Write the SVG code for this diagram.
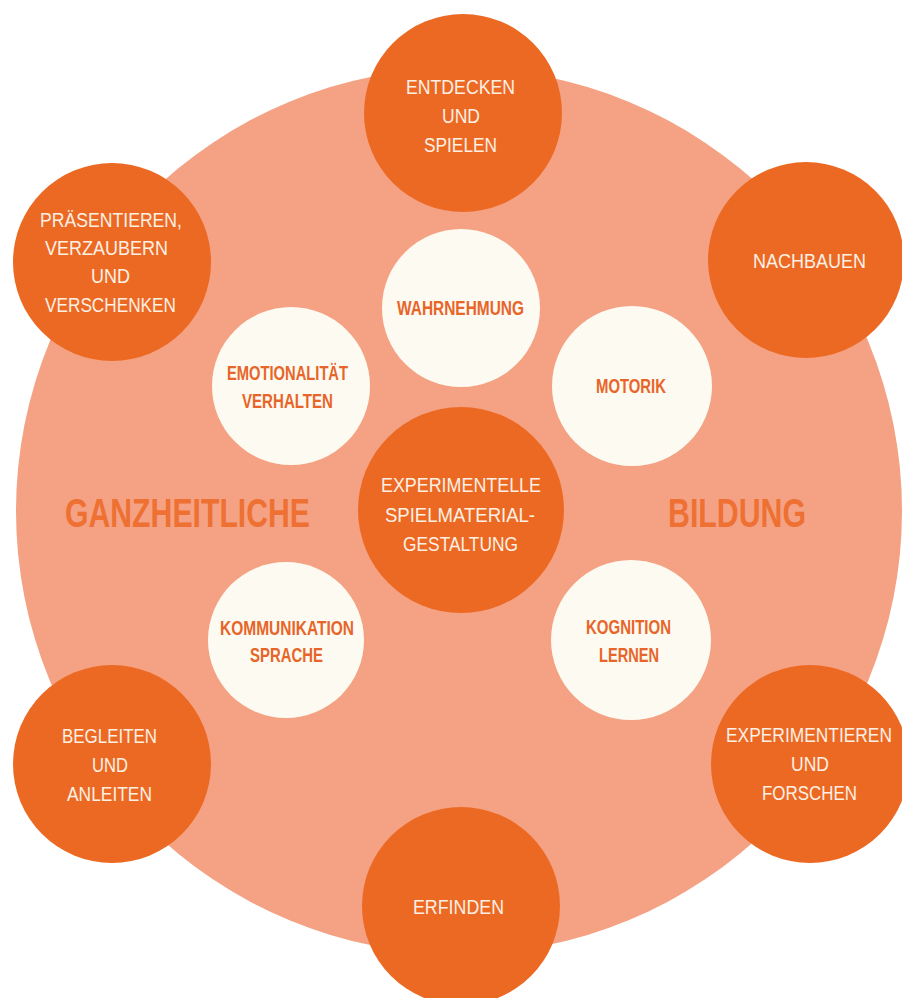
<svg xmlns="http://www.w3.org/2000/svg" width="902" height="998" viewBox="0 0 902 998">
<style>
.bg{fill:#f4a283}
.outer{fill:#ec6923}
.inner{fill:#fdfaf1}
.lo{font-family:"Liberation Sans Narrow","Liberation Sans",Arial,sans-serif;font-size:21px;fill:#fcf0e4}
.li{font-family:"Liberation Sans Narrow","Liberation Sans",Arial,sans-serif;font-size:21px;font-weight:bold;fill:#e8652a}
.big{font-family:"Liberation Sans Narrow","Liberation Sans",Arial,sans-serif;font-size:40px;font-weight:bold;fill:#ee7133}
</style>
<rect width="902" height="998" fill="#ffffff"/>
<g id="background">
<circle class="bg" cx="459" cy="511" r="443"/>
<text class="big" x="65" y="527" textLength="245" lengthAdjust="spacingAndGlyphs">GANZHEITLICHE</text>
<text class="big" x="668" y="527" textLength="138" lengthAdjust="spacingAndGlyphs">BILDUNG</text>
</g>
<g id="connectors"/>
<g id="entdecken">
<circle class="outer" cx="463" cy="113" r="99"/>
<text class="lo" x="406" y="94" textLength="109" lengthAdjust="spacingAndGlyphs">ENTDECKEN</text>
<text class="lo" x="442" y="123" textLength="38" lengthAdjust="spacingAndGlyphs">UND</text>
<text class="lo" x="424" y="152" textLength="73" lengthAdjust="spacingAndGlyphs">SPIELEN</text>
</g>
<g id="praesentieren">
<circle class="outer" cx="112" cy="262" r="99"/>
<text class="lo" x="40" y="227" textLength="142" lengthAdjust="spacingAndGlyphs">PRÄSENTIEREN,</text>
<text class="lo" x="45" y="255" textLength="123" lengthAdjust="spacingAndGlyphs">VERZAUBERN</text>
<text class="lo" x="91" y="283" textLength="39" lengthAdjust="spacingAndGlyphs">UND</text>
<text class="lo" x="45" y="312" textLength="131" lengthAdjust="spacingAndGlyphs">VERSCHENKEN</text>
</g>
<g id="nachbauen">
<circle class="outer" cx="806" cy="260" r="98"/>
<text class="lo" x="753" y="268" textLength="113" lengthAdjust="spacingAndGlyphs">NACHBAUEN</text>
</g>
<g id="begleiten">
<circle class="outer" cx="112" cy="764" r="99"/>
<text class="lo" x="62" y="743" textLength="95" lengthAdjust="spacingAndGlyphs">BEGLEITEN</text>
<text class="lo" x="92" y="772" textLength="36" lengthAdjust="spacingAndGlyphs">UND</text>
<text class="lo" x="67" y="801" textLength="85" lengthAdjust="spacingAndGlyphs">ANLEITEN</text>
</g>
<g id="experimentieren">
<circle class="outer" cx="810" cy="764" r="99"/>
<text class="lo" x="726" y="742" textLength="166" lengthAdjust="spacingAndGlyphs">EXPERIMENTIEREN</text>
<text class="lo" x="791" y="771" textLength="38" lengthAdjust="spacingAndGlyphs">UND</text>
<text class="lo" x="762" y="800" textLength="95" lengthAdjust="spacingAndGlyphs">FORSCHEN</text>
</g>
<g id="erfinden">
<circle class="outer" cx="461" cy="906" r="99"/>
<text class="lo" x="413" y="914" textLength="91" lengthAdjust="spacingAndGlyphs">ERFINDEN</text>
</g>
<g id="zentrum">
<circle class="outer" cx="461" cy="510" r="103"/>
<text class="lo" x="381" y="492" textLength="160" lengthAdjust="spacingAndGlyphs">EXPERIMENTELLE</text>
<text class="lo" x="385" y="522" textLength="150" lengthAdjust="spacingAndGlyphs">SPIELMATERIAL-</text>
<text class="lo" x="403" y="551" textLength="115" lengthAdjust="spacingAndGlyphs">GESTALTUNG</text>
</g>
<g id="wahrnehmung">
<circle class="inner" cx="461" cy="308" r="79"/>
<text class="li" x="397" y="315" textLength="127" lengthAdjust="spacingAndGlyphs">WAHRNEHMUNG</text>
</g>
<g id="emotionalitaet">
<circle class="inner" cx="291" cy="386" r="79"/>
<text class="li" x="227" y="380" textLength="121" lengthAdjust="spacingAndGlyphs">EMOTIONALITÄT</text>
<text class="li" x="242" y="408" textLength="91" lengthAdjust="spacingAndGlyphs">VERHALTEN</text>
</g>
<g id="motorik">
<circle class="inner" cx="632" cy="386" r="80"/>
<text class="li" x="596" y="393" textLength="70" lengthAdjust="spacingAndGlyphs">MOTORIK</text>
</g>
<g id="kommunikation">
<circle class="inner" cx="286" cy="640" r="78"/>
<text class="li" x="220" y="635" textLength="134" lengthAdjust="spacingAndGlyphs">KOMMUNIKATION</text>
<text class="li" x="250" y="662" textLength="73" lengthAdjust="spacingAndGlyphs">SPRACHE</text>
</g>
<g id="kognition">
<circle class="inner" cx="631" cy="640" r="80"/>
<text class="li" x="586" y="634" textLength="85" lengthAdjust="spacingAndGlyphs">KOGNITION</text>
<text class="li" x="599" y="662" textLength="60" lengthAdjust="spacingAndGlyphs">LERNEN</text>
</g>
</svg>
